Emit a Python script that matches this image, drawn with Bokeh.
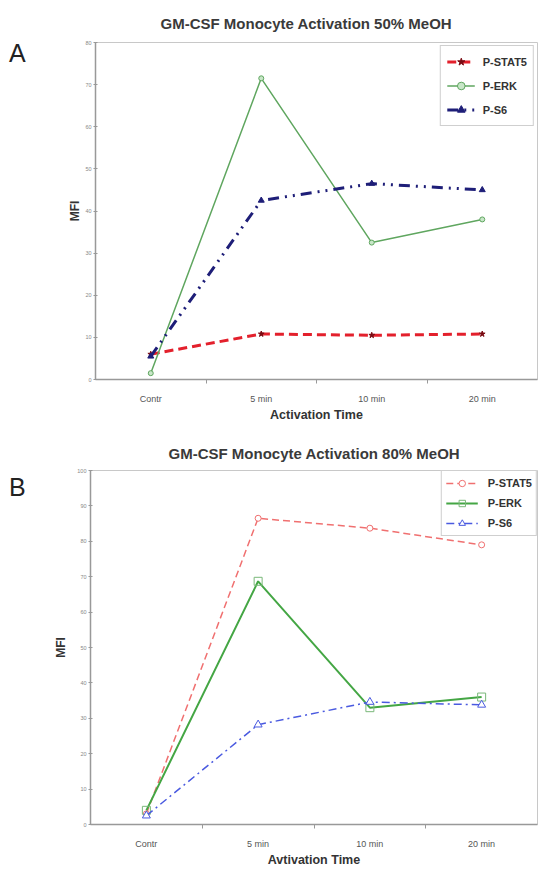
from bokeh.plotting import figure
from bokeh.models import FixedTicker, Range1d, Div
from bokeh.layouts import column, row
from bokeh.embed import file_html
from bokeh.resources import INLINE

# ---------------- data ----------------
categories = ["Contr", "5 min", "10 min", "20 min"]

a_title = "GM-CSF Monocyte Activation 50% MeOH"
a_xlabel = "Activation Time"
a_stat5 = [6.0, 10.8, 10.5, 10.8]
a_erk = [1.5, 71.5, 32.5, 38.0]
a_s6 = [5.5, 42.5, 46.5, 45.0]
a_yticks = [0, 10, 20, 30, 40, 50, 60, 70, 80]

b_title = "GM-CSF Monocyte Activation 80% MeOH"
b_xlabel = "Avtivation Time"
b_stat5 = [3.0, 86.5, 83.7, 79.0]
b_erk = [4.0, 68.7, 33.0, 36.0]
b_s6 = [2.5, 28.2, 34.6, 33.8]
b_yticks = [0, 10, 20, 30, 40, 50, 60, 70, 80, 90, 100]

series_names = ["P-STAT5", "P-ERK", "P-S6"]
panel_letters = ["A", "B"]

FONT = "Liberation Sans"
xs = list(range(1, len(categories) + 1))
boundaries = [i + 0.5 for i in xs[:-1]]
SIDE = 30


def style(p, yticks, xlabel):
    p.x_range = Range1d(0.5, len(categories) + 0.5)
    p.y_range = Range1d(yticks[0], yticks[-1])
    p.xgrid.visible = False
    p.ygrid.visible = False
    p.outline_line_color = "#c8c8c8"
    p.background_fill_color = "white"
    p.border_fill_color = "white"
    p.title.text_font = FONT
    p.title.text_font_size = "15px"
    p.title.text_color = "#3a3a3a"
    p.title.align = "left"
    p.title.text_font_style = "bold"

    xa = p.xaxis[0]
    xa.ticker = FixedTicker(ticks=xs, minor_ticks=boundaries)
    xa.major_label_overrides = {x: c for x, c in zip(xs, categories)}
    xa.major_tick_line_color = None
    xa.minor_tick_line_color = "#999999"
    xa.minor_tick_in = 0
    xa.minor_tick_out = 4
    xa.axis_line_color = "#999999"
    xa.axis_line_width = 1.5
    xa.major_label_text_font = FONT
    xa.major_label_text_font_size = "9px"
    xa.major_label_text_color = "#555555"
    xa.major_label_standoff = 8
    xa.axis_label = xlabel
    xa.axis_label_text_font = FONT
    xa.axis_label_text_font_size = "12.5px"
    xa.axis_label_text_font_style = "bold"
    xa.axis_label_text_color = "#333333"
    xa.axis_label_standoff = 1

    ya = p.yaxis[0]
    ya.ticker = FixedTicker(ticks=yticks)
    ya.minor_tick_line_color = None
    ya.major_tick_in = 2
    ya.major_tick_out = 2
    ya.major_tick_line_color = "#999999"
    ya.axis_line_color = "#999999"
    ya.axis_line_width = 1.5
    ya.major_label_text_font = FONT
    ya.major_label_text_font_size = "5.5px"
    ya.major_label_text_color = "#888888"
    ya.major_label_standoff = 2
    ya.axis_label = "MFI"
    ya.axis_label_text_font = FONT
    ya.axis_label_text_font_size = "12px"
    ya.axis_label_text_font_style = "bold"
    ya.axis_label_text_color = "#333333"

    p.legend.location = "top_right"
    p.legend.label_text_font = FONT
    p.legend.label_text_font_style = "bold"
    p.legend.label_text_color = "#333333"
    p.legend.border_line_color = "#a0a0a0"
    p.legend.background_fill_alpha = 1.0


def letter(text, height, top):
    inner = (f'<div style="padding:{top}px 0 0 9px; font-family:\'{FONT}\'; '
             f'font-size:25px; line-height:29px; color:#222222;">{text}</div>')
    return Div(text=inner, width=SIDE, height=height, margin=(0, 0, 0, 0))


# ---------------- chart A ----------------
pa = figure(width=538 - SIDE, height=433, title=a_title, output_backend="svg",
            toolbar_location=None, min_border_left=95 - SIDE, min_border_right=1,
            min_border_top=42, min_border_bottom=54)

pa.line(xs, a_stat5, color="#e3202c", line_width=3, line_dash="9 5", legend_label=series_names[0])
pa.scatter(xs, a_stat5, marker="star", size=6, color="#7a0a12", legend_label=series_names[0])
pa.line(xs, a_erk, color="#5fa65f", line_width=1.5, legend_label=series_names[1])
pa.scatter(xs, a_erk, marker="circle", size=5, line_color="#5fa65f", fill_color="#c8e6c8", legend_label=series_names[1])
pa.line(xs, a_s6, color="#1e1e78", line_width=3, line_dash="11 6 2 6 2 6", legend_label=series_names[2])
pa.scatter(xs, a_s6, marker="triangle", size=6, color="#1e1e78", fill_color="#1e1e78", legend_label=series_names[2])

style(pa, a_yticks, a_xlabel)
pa.title.standoff = 22
pa.title.offset = 65
pa.yaxis[0].axis_label_standoff = 0
pa.legend.label_text_font_size = "11px"
pa.legend.glyph_width = 28
pa.legend.label_height = 19
pa.legend.glyph_height = 19
pa.legend.label_standoff = 8
pa.legend.spacing = 5
pa.legend.padding = 6
pa.legend.margin = 3

# ---------------- chart B ----------------
pb = figure(width=538 - SIDE, height=438, title=b_title, output_backend="svg",
            toolbar_location=None, min_border_left=90 - SIDE, min_border_right=1,
            min_border_top=36, min_border_bottom=47)

pb.line(xs, b_stat5, color="#f07070", line_width=1.5, line_dash="7 4", legend_label=series_names[0])
pb.scatter(xs, b_stat5, marker="circle", size=6, line_color="#f07070", fill_color="white", legend_label=series_names[0])
pb.line(xs, b_erk, color="#44a644", line_width=2, legend_label=series_names[1])
pb.scatter(xs, b_erk, marker="square", size=8, line_color="#7ab87a", fill_color=None, legend_label=series_names[1])
pb.line(xs, b_s6, color="#4a5ae0", line_width=1.5, line_dash="8 4 2 4", legend_label=series_names[2])
pb.scatter(xs, b_s6, marker="triangle", size=8, line_color="#4a5ae0", fill_color="white", legend_label=series_names[2])

style(pb, b_yticks, b_xlabel)
pb.title.standoff = 18
pb.title.offset = 78
pb.yaxis[0].axis_label_standoff = 6
pb.legend.label_text_font_size = "11px"
pb.legend.glyph_width = 32
pb.legend.label_height = 16
pb.legend.glyph_height = 16
pb.legend.label_standoff = 10
pb.legend.spacing = 4
pb.legend.padding = 4
pb.legend.margin = 0

layout = column(
    row(letter(panel_letters[0], 433, 39), pa, spacing=0),
    row(letter(panel_letters[1], 438, 40), pb, spacing=0),
    spacing=0,
)
open("out.html", "w").write(file_html(layout, INLINE))
